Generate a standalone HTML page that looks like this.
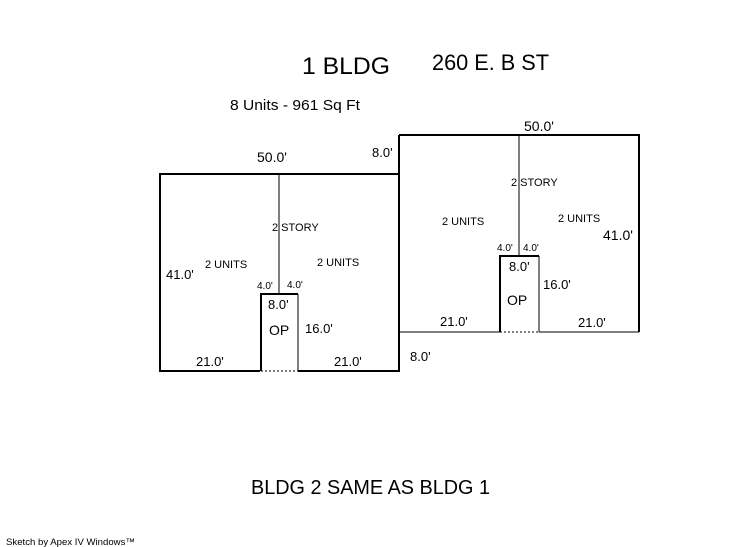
<!DOCTYPE html>
<html><head><meta charset="utf-8"><style>
html,body{margin:0;padding:0;background:#fff;}
svg{display:block;font-family:"Liberation Sans",Arial,sans-serif;}
</style></head><body>
<svg width="746" height="547" viewBox="0 0 746 547" xmlns="http://www.w3.org/2000/svg">
<rect width="746" height="547" fill="#fff"/>
<g fill="#000">
<text x="302" y="74" font-size="24" textLength="88" lengthAdjust="spacingAndGlyphs">1 BLDG</text>
<text x="432" y="70" font-size="22" textLength="117" lengthAdjust="spacingAndGlyphs">260 E. B ST</text>
<text x="230" y="110" font-size="15" textLength="130" lengthAdjust="spacingAndGlyphs">8 Units - 961 Sq Ft</text>
<text x="524" y="131" font-size="14">50.0'</text>
<text x="257" y="162" font-size="14">50.0'</text>
<text x="372" y="157" font-size="13">8.0'</text>
<text x="511" y="186" font-size="11">2 STORY</text>
<text x="272" y="231" font-size="11">2 STORY</text>
<text x="442" y="225" font-size="11">2 UNITS</text>
<text x="558" y="222" font-size="11">2 UNITS</text>
<text x="603" y="240" font-size="14">41.0'</text>
<text x="497" y="251" font-size="10">4.0'</text>
<text x="523" y="251" font-size="10">4.0'</text>
<text x="509" y="271" font-size="13">8.0'</text>
<text x="543" y="289" font-size="13">16.0'</text>
<text x="507" y="305" font-size="14">OP</text>
<text x="440" y="326" font-size="13">21.0'</text>
<text x="578" y="327" font-size="13">21.0'</text>
<text x="205" y="268" font-size="11">2 UNITS</text>
<text x="317" y="266" font-size="11">2 UNITS</text>
<text x="166" y="279" font-size="13">41.0'</text>
<text x="257" y="289" font-size="10">4.0'</text>
<text x="287" y="288" font-size="10">4.0'</text>
<text x="268" y="309" font-size="13">8.0'</text>
<text x="269" y="335" font-size="14">OP</text>
<text x="305" y="333" font-size="13">16.0'</text>
<text x="196" y="366" font-size="13">21.0'</text>
<text x="334" y="366" font-size="13">21.0'</text>
<text x="410" y="361" font-size="13">8.0'</text>
<text x="251" y="494" font-size="20" textLength="239" lengthAdjust="spacingAndGlyphs">BLDG 2 SAME AS BLDG 1</text>
<text x="6" y="545" font-size="9.5" textLength="129" lengthAdjust="spacingAndGlyphs">Sketch by Apex IV Windows™</text>
</g>
<g stroke="#000" fill="none">
<polyline points="260,371 160,371 160,174 399,174" stroke-width="2"/>
<line x1="298" y1="371" x2="399" y2="371" stroke-width="2"/>
<line x1="399" y1="135" x2="399" y2="372" stroke-width="2"/>
<line x1="279" y1="174" x2="279" y2="294" stroke-width="1"/>
<polyline points="261,371 261,294 298,294" stroke-width="2"/>
<line x1="298" y1="294" x2="298" y2="371" stroke-width="1"/>
<line x1="261" y1="371" x2="298" y2="371" stroke-width="1" stroke-dasharray="2,2"/>
<polyline points="399,135 639,135 639,332" stroke-width="2"/>
<line x1="399" y1="332" x2="500" y2="332" stroke-width="1"/>
<line x1="539" y1="332" x2="639" y2="332" stroke-width="1"/>
<line x1="519" y1="135" x2="519" y2="256" stroke-width="1"/>
<polyline points="500,332 500,256 539,256" stroke-width="2"/>
<line x1="539" y1="256" x2="539" y2="332" stroke-width="1"/>
<line x1="500" y1="332" x2="539" y2="332" stroke-width="1" stroke-dasharray="2,2"/>
</g>
</svg>
</body></html>
